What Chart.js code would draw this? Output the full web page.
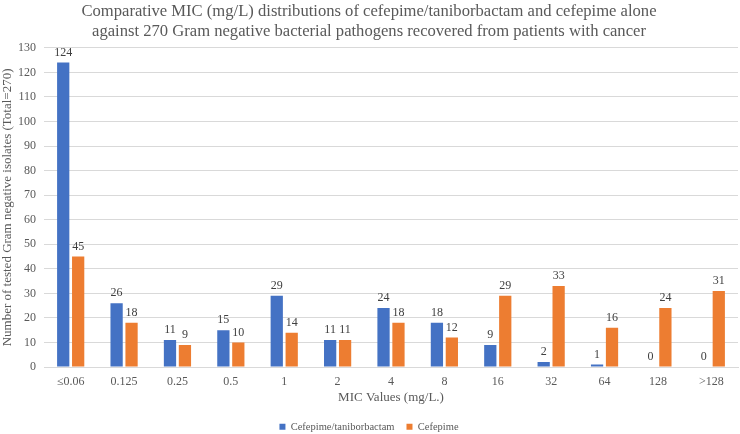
<!DOCTYPE html>
<html>
<head>
<meta charset="utf-8">
<script src="https://cdn.jsdelivr.net/npm/chart.js@4/dist/chart.umd.min.js"></script>
<style>
  html, body { margin: 0; padding: 0; background: #fff; }
  #wrap { width: 740px; height: 434px; }
</style>
</head>
<body>
<div id="wrap"><canvas id="c" width="740" height="434"></canvas></div>
<script>
// MIC categories (mg/L)
const micLabels = ['≤0.06', '0.125', '0.25', '0.5', '1', '2', '4', '8', '16', '32', '64', '128', '>128'];
// isolate counts per MIC value
const cefTanValues = [124, 26, 11, 15, 29, 11, 24, 18, 9, 2, 1, 0, 0];
const cefValues = [45, 18, 9, 10, 14, 11, 18, 12, 29, 33, 16, 24, 31];

const serif = "'Liberation Serif', 'DejaVu Serif', serif";
const grey = '#595959';

// small plugin to print the count above each bar
const barValues = {
    id: 'barValues',
    afterDatasetsDraw(chart) {
        const ctx = chart.ctx;
        ctx.save();
        ctx.font = '12px ' + serif;
        ctx.fillStyle = '#404040';
        ctx.textAlign = 'center';
        ctx.textBaseline = 'bottom';
        chart.data.datasets.forEach((ds, i) => {
            chart.getDatasetMeta(i).data.forEach((bar, j) => {
                ctx.fillText(ds.data[j], bar.x, bar.y - 4);
            });
        });
        ctx.restore();
    }
};

new Chart(document.getElementById('c'), {
    type: 'bar',
    data: {
        labels: micLabels,
        datasets: [
            { label: 'Cefepime/taniborbactam', data: cefTanValues, backgroundColor: '#4472C4' },
            { label: 'Cefepime', data: cefValues, backgroundColor: '#ED7D31' }
        ]
    },
    options: {
        responsive: false,
        animation: false,
        devicePixelRatio: 1,
        layout: { padding: { left: 0, right: 2, top: 0, bottom: -8 } },
        datasets: { bar: { categoryPercentage: 0.56, barPercentage: 0.82 } },
        plugins: {
            title: {
                display: true,
                text: ['Comparative MIC (mg/L) distributions of cefepime/taniborbactam and cefepime alone',
                       'against 270 Gram negative bacterial pathogens recovered from patients with cancer'],
                color: grey,
                font: { family: serif, size: 16.6, weight: 'normal', lineHeight: 1.2 },
                padding: { top: 2, bottom: 6 }
            },
            legend: {
                position: 'bottom',
                labels: {
                    color: grey,
                    font: { family: serif, size: 10.5 },
                    boxWidth: 6,
                    boxHeight: 6,
                    padding: 12
                }
            },
            tooltip: { enabled: false }
        },
        scales: {
            x: {
                afterFit(scale) { scale.height = 42.5; },
                grid: { display: false, drawTicks: false },
                border: { color: '#d9d9d9' },
                ticks: { color: grey, font: { family: serif, size: 12 }, maxRotation: 0, padding: 8 },
                title: { display: true, text: 'MIC Values (mg/L.)', color: grey, font: { family: serif, size: 13 }, padding: { top: 0, bottom: 4 } }
            },
            y: {
                min: 0,
                max: 130,
                afterFit(scale) { scale.width = 44; },
                ticks: { stepSize: 10, color: grey, font: { family: serif, size: 12 }, padding: 8 },
                grid: { color: '#d9d9d9', drawTicks: false },
                border: { display: false },
                title: { display: true, text: 'Number of tested Gram negative isolates (Total=270)', color: grey, font: { family: serif, size: 13 }, padding: 0 }
            }
        }
    },
    plugins: [barValues]
});
</script>
</body>
</html>
